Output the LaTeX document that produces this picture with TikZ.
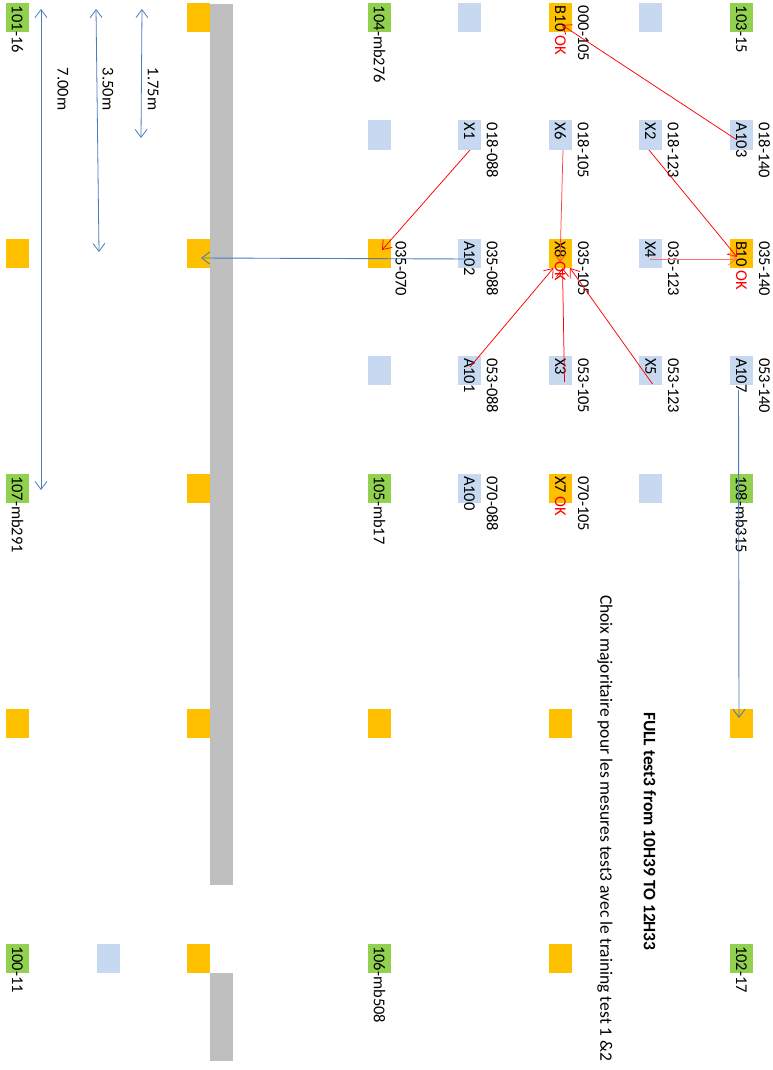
\documentclass[tikz,border=0pt]{standalone}
\usepackage{fontspec}
\setmainfont{Carlito}
\usetikzlibrary{arrows.meta,calc}
\definecolor{cOr}{HTML}{FFC000}
\definecolor{cLb}{HTML}{C6D9F1}
\definecolor{cGr}{HTML}{92D050}
\definecolor{cGy}{HTML}{BFBFBF}
\definecolor{cBl}{HTML}{4A7EBB}
\definecolor{cRd}{HTML}{FF0000}
\newcommand\sqr[4]{\node[sq,fill=#2] (#1) at (#3,#4) {};}
\newcommand\inlab[2]{\node[lab] at ($(#1.north)+(0,2.5)$) {#2};}
\newcommand\rlab[2]{\node[lab] at ($(#1.north)+(23,2.5)$) {#2};}
\begin{document}
\begin{tikzpicture}[x=1pt,y=-1pt,
  every node/.style={inner sep=0pt,outer sep=0pt},
  sq/.style={minimum width=23pt,minimum height=29pt,anchor=north west},
  lab/.style={rotate=-90,anchor=west,font=\fontsize{16.5}{19}\selectfont},
  redarr/.style={draw=cRd,line width=0.75pt,-{Straight Barb[length=8pt,width=12pt]}},
  bluarr/.style={draw=cBl,line width=0.9pt,-{Straight Barb[length=8pt,width=12pt]}},
  dimarr/.style={draw=cBl,line width=0.8pt,{Straight Barb[length=8pt,width=12pt]}-{Straight Barb[length=8pt,width=12pt]}}]
\useasboundingbox (0,0) rectangle (773,1070);
% gray bars
\fill[cGy] (210,4) rectangle (233,885);
\fill[cGy] (210,973) rectangle (233,1061);
% row 0
\sqr{a0}{cGr}{6}{3.5}
\sqr{b0}{cOr}{187}{3.5}
\sqr{c0}{cGr}{368}{3.5}
\sqr{d0}{cLb}{458}{3.5}
\sqr{e0}{cOr}{549}{3.5}
\sqr{f0}{cLb}{639}{3.5}
\sqr{g0}{cGr}{730}{3.5}
% row 1
\sqr{c1}{cLb}{368}{120.5}
\sqr{d1}{cLb}{458}{120.5}
\sqr{e1}{cLb}{549}{120.5}
\sqr{f1}{cLb}{639}{120.5}
\sqr{g1}{cLb}{730}{120.5}
% row 2
\sqr{a2}{cOr}{6}{238.5}
\sqr{b2}{cOr}{187}{238.5}
\sqr{c2}{cOr}{368}{238.5}
\sqr{d2}{cLb}{458}{238.5}
\sqr{e2}{cOr}{549}{238.5}
\sqr{f2}{cLb}{639}{238.5}
\sqr{g2}{cOr}{730}{238.5}
% row 3
\sqr{c3}{cLb}{368}{355.5}
\sqr{d3}{cLb}{458}{355.5}
\sqr{e3}{cLb}{549}{355.5}
\sqr{f3}{cLb}{639}{355.5}
\sqr{g3}{cLb}{730}{355.5}
% row 4
\sqr{a4}{cGr}{6}{473.5}
\sqr{b4}{cOr}{187}{473.5}
\sqr{c4}{cGr}{368}{473.5}
\sqr{d4}{cLb}{458}{473.5}
\sqr{e4}{cOr}{549}{473.5}
\sqr{f4}{cLb}{639}{473.5}
\sqr{g4}{cGr}{730}{473.5}
% row 5
\sqr{a5}{cOr}{6}{708.5}
\sqr{b5}{cOr}{187}{708.5}
\sqr{c5}{cOr}{368}{708.5}
\sqr{e5}{cOr}{549}{708.5}
\sqr{g5}{cOr}{730}{708.5}
% row 6
\sqr{a6}{cGr}{6}{943.5}
\sqr{h6}{cLb}{97}{943.5}
\sqr{b6}{cOr}{187}{943.5}
\sqr{c6}{cGr}{368}{943.5}
\sqr{e6}{cOr}{549}{943.5}
\sqr{g6}{cGr}{730}{943.5}
% labels
\inlab{a0}{101-16}
\inlab{c0}{104-mb276}
\inlab{e0}{B10 {\color{cRd}OK}}
\rlab{e0}{000-105}
\inlab{g0}{103-15}
\inlab{d1}{X1}\rlab{d1}{018-088}
\inlab{e1}{X6}\rlab{e1}{018-105}
\inlab{f1}{X2}\rlab{f1}{018-123}
\inlab{g1}{A103}\rlab{g1}{018-140}
\node[lab] at ($(c2.north)+(21.5,2.5)$) {035-070};
\inlab{d2}{A102}\rlab{d2}{035-088}
\inlab{e2}{X8 {\color{cRd}OK}}\rlab{e2}{035-105}
\inlab{f2}{X4}\rlab{f2}{035-123}
\inlab{g2}{B10 {\color{cRd}OK}}\rlab{g2}{035-140}
\inlab{d3}{A101}\rlab{d3}{053-088}
\inlab{e3}{X3}\rlab{e3}{053-105}
\inlab{f3}{X5}\rlab{f3}{053-123}
\inlab{g3}{A107}\rlab{g3}{053-140}
\inlab{a4}{107-mb291}
\inlab{c4}{105-mb17}
\inlab{d4}{A100}\rlab{d4}{070-088}
\inlab{e4}{X7 {\color{cRd}OK}}\rlab{e4}{070-105}
\inlab{g4}{108-mb315}
\inlab{a6}{100-11}
\inlab{c6}{106-mb508}
\inlab{g6}{102-17}
% titles
\node[lab,font=\fontsize{17.5}{20}\selectfont\bfseries] (title) at (650,712) {FULL test3 from 10H39 TO 12H33};
\node[lab,font=\fontsize{17.5}{20}\selectfont] (sub) at (605,595) {Choix majoritaire pour les mesures test3 avec le training test 1 \&2};
% dimension arrows
\coordinate (d1a) at (142,9);
\coordinate (d1b) at (141,138);
\coordinate (d2a) at (96,9);
\coordinate (d2b) at (99,252);
\coordinate (d3a) at (41,9);
\coordinate (d3b) at (41,490);
\draw[dimarr] (d1a) -- (d1b);
\draw[dimarr] (d2a) -- (d2b);
\draw[dimarr] (d3a) -- (d3b);
\node[lab] (l1) at (153,68) {1.75m};
\node[lab] (l2) at (108,68) {3.50m};
\node[lab] (l3) at (63,68) {7.00m};
% blue arrows
\draw[bluarr] ($(d2.center)+(-2,6)$) -- ($(b2.center)+(2.5,5)$);
\draw[bluarr] ($(g3.center)+(-3,20)$) -- ($(g5.center)+(-2.5,-5)$);
% red arrows
\draw[redarr] ($(g1.center)+(-4.5,5)$) -- ($(e0.center)+(1.5,7)$);
\draw[redarr] ($(d1.center)+(0.5,15)$) -- ($(c2.center)+(2.5,-3)$);
\draw[redarr,draw=cRd!75] ($(e1.center)+(2.5,15)$) -- ($(e2.center)+(-0.5,9)$);
\draw[redarr] ($(f1.center)+(-1.5,15)$) -- ($(g2.center)+(-4.5,4)$);
\draw[redarr,draw=cRd!55] ($(f2.center)+(-0.5,6)$) -- ($(g2.center)+(-4.5,6)$);
\draw[redarr] ($(d3.center)+(0.5,-3)$) -- ($(e2.center)+(-7,15)$);
\draw[redarr] ($(e3.center)+(4,12)$) -- ($(e2.center)+(2,15)$);
\draw[redarr] ($(f3.center)+(2,14)$) -- ($(e2.center)+(9.5,15)$);
\end{tikzpicture}
\end{document}
